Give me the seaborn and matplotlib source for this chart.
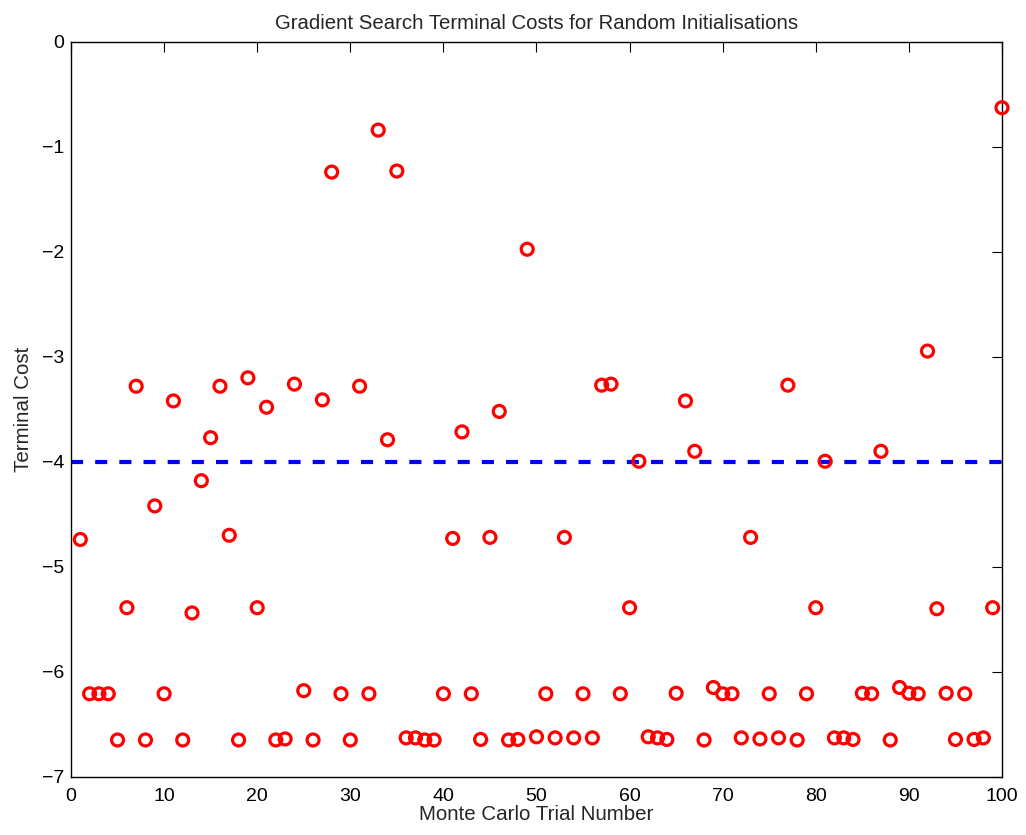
import numpy as np
import pandas as pd
import matplotlib
matplotlib.use("Agg")
import matplotlib.pyplot as plt
import seaborn as sns

# Monte Carlo trial numbers and the terminal cost reached by each gradient search
trial = list(range(1, 101))
terminal_cost = [
    -4.74, -6.21, -6.21, -6.21, -6.65, -5.39, -3.28, -6.65, -4.42, -6.21,
    -3.42, -6.65, -5.44, -4.18, -3.77, -3.28, -4.70, -6.65, -3.20, -5.39,
    -3.48, -6.65, -6.64, -3.26, -6.18, -6.65, -3.41, -1.24, -6.21, -6.65,
    -3.28, -6.21, -0.84, -3.79, -1.23, -6.63, -6.63, -6.65, -6.65, -6.21,
    -4.73, -3.715, -6.21, -6.645, -4.72, -3.52, -6.65, -6.645, -1.975, -6.62,
    -6.21, -6.63, -4.72, -6.63, -6.21, -6.63, -3.27, -3.26, -6.21, -5.39,
    -3.995, -6.62, -6.63, -6.645, -6.205, -3.42, -3.90, -6.65, -6.15, -6.21,
    -6.21, -6.63, -4.72, -6.64, -6.21, -6.63, -3.27, -6.65, -6.21, -5.39,
    -3.995, -6.63, -6.63, -6.645, -6.205, -6.21, -3.90, -6.65, -6.15, -6.205,
    -6.21, -2.945, -5.40, -6.205, -6.645, -6.21, -6.645, -6.63, -5.39, -0.627,
]
threshold = -4.0
x_ticks = [0, 10, 20, 30, 40, 50, 60, 70, 80, 90, 100]
y_ticks = [0, -1, -2, -3, -4, -5, -6, -7]

df = pd.DataFrame({"trial": trial, "cost": terminal_cost})

sns.set_style("white")
plt.rcParams["font.family"] = ["Liberation Sans", "DejaVu Sans"]
plt.rcParams["axes.unicode_minus"] = True

fig = plt.figure(figsize=(10.26, 8.35), dpi=100)
ax = fig.add_axes([0.0692, 0.0698, 0.9074, 0.8800])

sns.scatterplot(
    data=df, x="trial", y="cost", ax=ax,
    marker="o", s=8.6 ** 2, facecolor="none", edgecolor="#ff0000",
    linewidth=2.3, zorder=3, clip_on=False,
)
ax.axhline(threshold, color="#0000ff", linewidth=3.0, dashes=(2.9, 2.9), zorder=2)

ax.set_xlim(0, 100)
ax.set_ylim(-7, 0)
ax.set_xticks(x_ticks)
ax.set_yticks(y_ticks)
ax.set_xticklabels([str(v) for v in x_ticks])
ax.set_yticklabels([("\u2212" + str(-v)) if v < 0 else str(v) for v in y_ticks])

for side in ["top", "right", "bottom", "left"]:
    ax.spines[side].set_visible(True)
    ax.spines[side].set_color("black")
    ax.spines[side].set_linewidth(1.0)

ax.tick_params(axis="both", which="both", direction="in", length=7, width=0.8,
               top=True, right=True, labelsize=14, colors="black")
ax.tick_params(axis="x", pad=8)
ax.tick_params(axis="y", pad=5)

ax.set_xlabel("Monte Carlo Trial Number", fontsize=14.8, labelpad=0)
ax.set_ylabel("Terminal Cost", fontsize=14.8, labelpad=6)
ax.set_title("Gradient Search Terminal Costs for Random Initialisations",
             fontsize=14.7, pad=9)

fig.savefig("out.png", dpi=100)
